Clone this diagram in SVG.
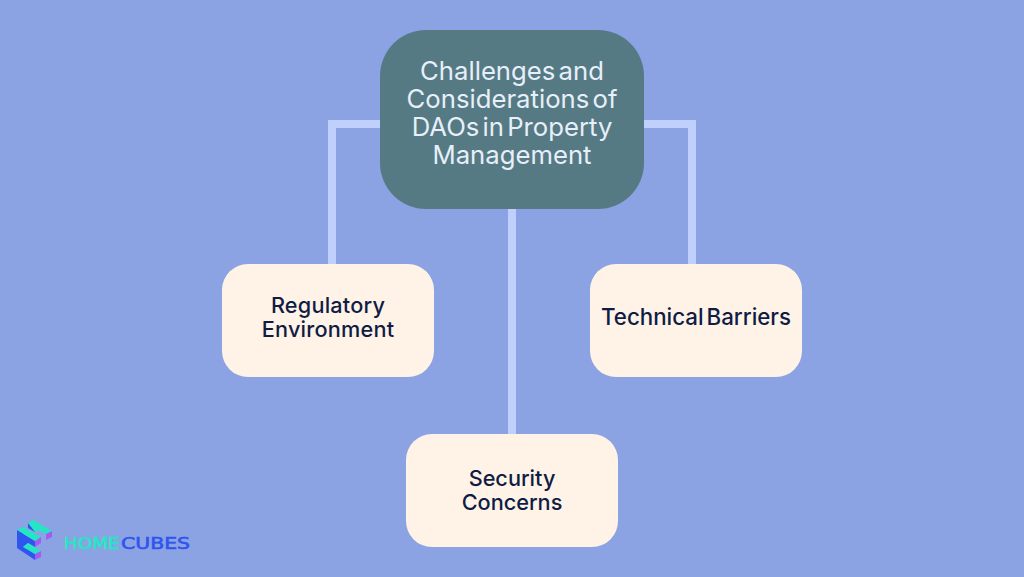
<svg xmlns="http://www.w3.org/2000/svg" width="1024" height="577" viewBox="0 0 1024 577">
<style>
.c{fill:none;stroke:#bfd0fd;stroke-width:8}
.n{fill:#fff3e8}
.t{font-family:Inter,"Liberation Sans",sans-serif;font-size:22.3px;font-weight:500;fill:#0f1c44;text-anchor:middle;word-spacing:-3px}
.s{font-size:21.7px}
.h{font-family:Inter,"Liberation Sans",sans-serif;font-size:25.7px;font-weight:400;fill:#e6effa;text-anchor:middle;word-spacing:-4px}
.l{font-family:"DejaVu Sans",sans-serif;font-size:15.5px;font-weight:400;stroke-width:.6px}
.teal{fill:#25e6c4}.blue{fill:#2f55f0}.pur{fill:#a45cf0}
</style>
<rect width="1024" height="577" fill="#8ba3e2"/>
<g id="connectors">
<path class="c" d="M332 268V124H380"/>
<path class="c" d="M644 124H692V268"/>
<path class="c" d="M512 205V438"/>
</g>
<g id="root"><rect x="380" y="30" width="264" height="179" rx="46" fill="#567a83"/>
<text class="h"><tspan x="512" y="79.500">Challenges and</tspan><tspan x="512" y="107.500">Considerations of</tspan><tspan x="512" y="135.500">DAOs in Property</tspan><tspan x="512" y="163.500">Management</tspan></text></g>
<g id="regulatory"><rect class="n" x="222" y="264" width="212" height="113" rx="26"/>
<text class="t s" style="letter-spacing:.2px"><tspan x="328" y="312.500">Regulatory</tspan><tspan x="328" y="336.500">Environment</tspan></text></g>
<g id="technical"><rect class="n" x="590" y="264" width="212" height="113" rx="26"/>
<text class="t" x="696" y="324.500">Technical Barriers</text></g>
<g id="security"><rect class="n" x="406" y="434" width="212" height="113" rx="26"/>
<text class="t s"><tspan x="512" y="485.500">Security</tspan><tspan x="512" y="509.500">Concerns</tspan></text></g>
<g id="logo">
<path class="blue" d="M17 530L35 541V547L28 543L23 547V530ZM17 530V548L35 560V554L23 546V530Z"/>
<path class="blue" d="M28 523L35 527V532L28 528Z"/>
<path class="teal" d="M28 523L33 520L52 531L46 534L39 530L35 532Z"/>
<path class="teal" d="M17 530L23 527L41 537L35 541Z"/>
<path class="teal" d="M23 547L28 543L41 551L35 554Z"/>
<path class="pur" d="M46 534L52 531V537L46 540Z"/>
<path class="pur" d="M35 541L41 537V543L35 547Z"/>
<path class="pur" d="M35 554L41 551V557L35 560Z"/>
<text class="l teal" stroke="#25e6c4" x="64" y="549" textLength="56" lengthAdjust="spacingAndGlyphs">HOME</text>
<text class="l blue" stroke="#2f55f0" x="121" y="549" textLength="69" lengthAdjust="spacingAndGlyphs">CUBES</text>
</g>
</svg>
